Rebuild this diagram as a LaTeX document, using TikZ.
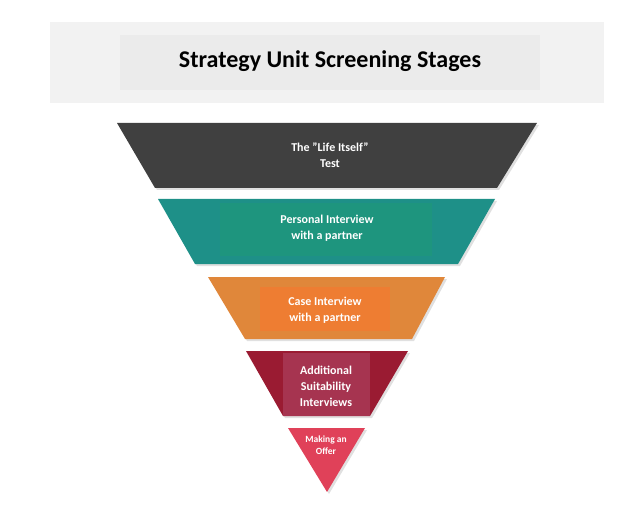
\documentclass[tikz,border=0pt]{standalone}
\usepackage{fontspec}
\setmainfont{Carlito}
\definecolor{stagegray}{HTML}{404040}
\definecolor{stageteal}{HTML}{1E9088}
\definecolor{innerteal}{HTML}{1E957E}
\definecolor{stageorange}{HTML}{E0873A}
\definecolor{innerorange}{HTML}{EE7D32}
\definecolor{stagered}{HTML}{9A1B32}
\definecolor{innerred}{HTML}{A63450}
\definecolor{stagepink}{HTML}{E04159}
\tikzset{
  stagetext/.style={text=white, font=\bfseries\fontsize{12}{16}\selectfont, align=center},
  shade/.style={fill=black!12, xshift=2pt, yshift=-2pt}
}
\begin{document}
\begin{tikzpicture}[x=1pt,y=-1pt]
  \useasboundingbox (0,0) rectangle (644,526);
  % title
  \fill[black!5] (50,22) rectangle (604,103);
  \fill[black!8] (120,35) rectangle (540,90);
  \node[font=\bfseries\fontsize{24}{28}\selectfont] (title) at (330,61) {Strategy Unit Screening Stages};
  % funnel
  \fill[shade] (117,123) -- (537,123) -- (497,188) -- (155,188) -- cycle;
  \fill[stagegray] (117,123) -- (537,123) -- (497,188) -- (155,188) -- cycle;
  \fill[shade] (158,199) -- (495,199) -- (458,264) -- (195,264) -- cycle;
  \fill[stageteal] (158,199) -- (495,199) -- (458,264) -- (195,264) -- cycle;
  \fill[innerteal] (220,203) rectangle (432,256);
  \fill[shade] (208,277) -- (445,277) -- (412,339) -- (245,339) -- cycle;
  \fill[stageorange] (208,277) -- (445,277) -- (412,339) -- (245,339) -- cycle;
  \fill[innerorange] (260,287) rectangle (390,331);
  \fill[shade] (246,351) -- (408,351) -- (370,416) -- (283,416) -- cycle;
  \fill[stagered] (246,351) -- (408,351) -- (370,416) -- (283,416) -- cycle;
  \fill[innerred] (283,353) rectangle (370,416);
  \fill[shade] (288,428) -- (365,428) -- (327,492) -- cycle;
  \fill[stagepink] (288,428) -- (365,428) -- (327,492) -- cycle;
  % labels
  \node[stagetext] (life) at (330,155) {The "Life Itself"\\Test};
  \node[stagetext] (personal) at (327,228) {Personal Interview\\with a partner};
  \node[stagetext] (case) at (325,310) {Case Interview\\with a partner};
  \node[stagetext] (extra) at (326,386) {Additional\\Suitability\\Interviews};
  \node[stagetext, font=\bfseries\fontsize{9.5}{12}\selectfont] (offer) at (326,445) {Making an\\Offer};
\end{tikzpicture}
\end{document}
